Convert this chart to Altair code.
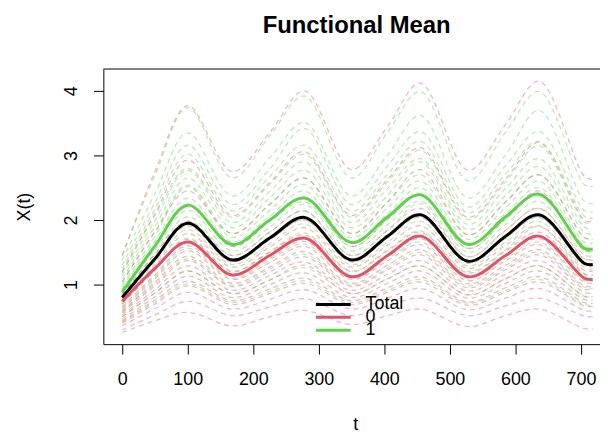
import altair as alt
import pandas as pd

# ---------------- data ----------------
T = [0, 50, 100, 168, 225, 278, 350, 405, 455, 528, 585, 636, 705, 718]

MEAN_TOTAL = [0.80, 1.40, 1.95, 1.38, 1.72, 2.04, 1.38, 1.75, 2.08, 1.36, 1.75, 2.08, 1.33, 1.31]
MEAN_0 = [0.74, 1.25, 1.66, 1.15, 1.45, 1.72, 1.12, 1.45, 1.75, 1.12, 1.45, 1.75, 1.10, 1.08]
MEAN_1 = [0.88, 1.60, 2.23, 1.62, 2.00, 2.34, 1.65, 2.05, 2.39, 1.62, 2.05, 2.40, 1.56, 1.55]

GROUP0_CURVES = [
    [1.45, 2.75, 3.77, 2.75, 3.35, 4.00, 2.78, 3.45, 4.12, 2.77, 3.48, 4.15, 2.68, 2.62],
    [1.20, 2.10, 2.93, 2.07, 2.58, 3.06, 2.07, 2.63, 3.12, 2.04, 2.63, 3.20, 2.00, 1.97],
    [1.04, 1.82, 2.45, 1.79, 2.24, 2.65, 1.79, 2.28, 2.78, 1.77, 2.28, 2.70, 1.73, 1.70],
    [0.92, 1.61, 2.24, 1.59, 1.98, 2.35, 1.59, 2.01, 2.39, 1.56, 2.01, 2.45, 1.53, 1.51],
    [0.84, 1.47, 1.98, 1.45, 1.81, 2.14, 1.45, 1.84, 2.18, 1.43, 1.84, 2.18, 1.40, 1.38],
    [0.78, 1.37, 1.91, 1.35, 1.69, 2.00, 1.35, 1.72, 2.04, 1.33, 1.72, 2.04, 1.30, 1.28],
    [0.74, 1.29, 1.79, 1.27, 1.58, 1.88, 1.27, 1.61, 1.91, 1.25, 1.61, 1.91, 1.22, 1.21],
    [0.70, 1.22, 1.70, 1.20, 1.50, 1.77, 1.20, 1.52, 1.81, 1.18, 1.52, 1.81, 1.16, 1.14],
    [0.66, 1.15, 1.60, 1.13, 1.41, 1.67, 1.13, 1.44, 1.71, 1.12, 1.44, 1.71, 1.09, 1.07],
    [0.62, 1.09, 1.52, 1.08, 1.34, 1.59, 1.08, 1.37, 1.62, 1.06, 1.37, 1.62, 1.04, 1.02],
    [0.59, 1.04, 1.44, 1.02, 1.27, 1.51, 1.02, 1.30, 1.54, 1.01, 1.30, 1.54, 0.98, 0.97],
    [0.56, 0.98, 1.37, 0.97, 1.20, 1.43, 0.97, 1.23, 1.46, 0.95, 1.23, 1.46, 0.93, 0.92],
    [0.53, 0.92, 1.29, 0.91, 1.14, 1.35, 0.91, 1.16, 1.37, 0.90, 1.16, 1.37, 0.88, 0.86],
    [0.50, 0.87, 1.21, 0.86, 1.07, 1.30, 0.86, 1.09, 1.29, 0.84, 1.09, 1.29, 0.82, 0.81],
    [0.46, 0.81, 1.13, 0.80, 1.00, 1.18, 0.80, 1.02, 1.21, 0.79, 1.02, 1.21, 0.77, 0.76],
    [0.43, 0.76, 1.05, 0.75, 0.93, 1.10, 0.75, 0.95, 1.12, 0.73, 0.95, 1.12, 0.72, 0.71],
    [0.40, 0.70, 0.98, 0.69, 0.86, 1.02, 0.69, 0.88, 1.04, 0.68, 0.88, 1.04, 0.67, 0.66],
    [0.36, 0.63, 0.88, 0.62, 0.77, 0.92, 0.62, 0.79, 0.94, 0.61, 0.79, 0.94, 0.60, 0.59],
    [0.30, 0.53, 0.74, 0.52, 0.65, 0.78, 0.52, 0.67, 0.79, 0.52, 0.67, 0.79, 0.51, 0.50],
    [0.26, 0.44, 0.57, 0.36, 0.50, 0.60, 0.38, 0.52, 0.62, 0.35, 0.52, 0.62, 0.32, 0.31],
]

GROUP1_CURVES = [
    [1.45, 2.69, 3.74, 2.65, 3.30, 3.92, 2.65, 3.36, 3.99, 2.61, 3.36, 3.99, 2.55, 2.52],
    [1.38, 2.41, 3.35, 2.37, 2.96, 3.51, 2.37, 3.01, 3.62, 2.34, 3.01, 3.70, 2.29, 2.25],
    [1.30, 2.27, 3.16, 2.24, 2.79, 3.42, 2.24, 2.84, 3.37, 2.20, 2.84, 3.37, 2.15, 2.12],
    [1.24, 2.17, 3.02, 2.14, 2.67, 3.16, 2.14, 2.71, 3.22, 2.11, 2.71, 3.22, 2.06, 2.03],
    [1.18, 2.07, 2.80, 2.04, 2.55, 3.02, 2.04, 2.59, 3.08, 2.01, 2.59, 3.15, 1.97, 1.94],
    [1.14, 1.99, 2.77, 1.96, 2.44, 2.90, 1.96, 2.49, 2.95, 1.93, 2.49, 2.95, 1.89, 1.86],
    [1.09, 1.90, 2.65, 1.88, 2.34, 2.77, 1.88, 2.38, 2.90, 1.85, 2.38, 2.83, 1.81, 1.78],
    [1.04, 1.82, 2.54, 1.79, 2.24, 2.65, 1.79, 2.28, 2.70, 1.77, 2.28, 2.70, 1.73, 1.70],
    [1.00, 1.75, 2.52, 1.73, 2.15, 2.55, 1.73, 2.19, 2.60, 1.70, 2.19, 2.60, 1.66, 1.64],
    [0.96, 1.68, 2.34, 1.66, 2.06, 2.45, 1.66, 2.10, 2.50, 1.63, 2.10, 2.50, 1.60, 1.57],
    [0.92, 1.61, 2.24, 1.59, 1.98, 2.28, 1.59, 2.01, 2.39, 1.56, 2.01, 2.39, 1.53, 1.51],
    [0.88, 1.54, 2.15, 1.52, 1.89, 2.24, 1.52, 1.93, 2.29, 1.50, 1.93, 2.29, 1.46, 1.44],
    [0.84, 1.47, 2.05, 1.45, 1.81, 2.14, 1.45, 1.84, 2.25, 1.43, 1.84, 2.18, 1.40, 1.38],
    [0.82, 1.42, 1.98, 1.36, 1.70, 2.00, 1.40, 1.78, 2.10, 1.35, 1.72, 2.05, 1.31, 1.30],
    [0.76, 1.33, 1.85, 1.31, 1.63, 1.94, 1.31, 1.66, 1.98, 1.29, 1.66, 1.98, 1.26, 1.24],
    [0.70, 1.23, 1.72, 1.21, 1.51, 1.80, 1.21, 1.54, 1.83, 1.20, 1.54, 1.90, 1.17, 1.15],
    [0.64, 1.12, 1.56, 1.10, 1.38, 1.63, 1.10, 1.40, 1.66, 1.09, 1.40, 1.66, 1.06, 1.05],
    [0.58, 1.01, 1.40, 0.99, 1.24, 1.47, 0.99, 1.26, 1.50, 0.98, 1.26, 1.50, 0.96, 0.94],
    [0.50, 0.87, 1.21, 0.86, 1.07, 1.26, 0.86, 1.09, 1.29, 0.84, 1.09, 1.29, 0.82, 0.81],
    [0.42, 0.73, 1.01, 0.72, 0.89, 1.06, 0.72, 0.91, 1.08, 0.71, 0.91, 1.08, 0.69, 0.68],
]

X_TICKS = [0, 100, 200, 300, 400, 500, 600, 700]
Y_TICKS = [1, 2, 3, 4]
LEGEND_LABELS = ["Total", "0", "1"]
TITLE = "Functional Mean"
X_TITLE = "t"
Y_TITLE = "X(t)"

# ---------------- styling ----------------
RED = "#DF536B"
GREEN = "#61D04F"
FONT = "Liberation Sans"
W, H = 500, 277
X_DOMAIN = [-28.8, 729.1]
Y_DOMAIN = [0.077, 4.338]
INTERP = "catmull-rom"

rows = []
for gname, curves in (("0", GROUP0_CURVES), ("1", GROUP1_CURVES)):
    for i, c in enumerate(curves):
        for t, v in zip(T, c):
            rows.append({"group": gname, "curve": f"{gname}_{i}", "t": t, "value": v})
df_ind = pd.DataFrame(rows)

mrows = []
for name, vals in zip(LEGEND_LABELS, (MEAN_TOTAL, MEAN_0, MEAN_1)):
    for t, v in zip(T, vals):
        mrows.append({"series": name, "t": t, "value": v})
df_mean = pd.DataFrame(mrows)

xs = alt.Scale(domain=X_DOMAIN, nice=False, zero=False)
ys = alt.Scale(domain=Y_DOMAIN, nice=False, zero=False)

x_enc = alt.X("t:Q", scale=xs,
              axis=alt.Axis(values=X_TICKS, title=None, grid=False, labelAngle=0, format="d",
                            labelPadding=17, tickSize=10, labelBaseline="top"))
y_enc = alt.Y("value:Q", scale=ys,
              axis=alt.Axis(values=Y_TICKS, title=None, grid=False, labelAngle=270, format="d",
                            labelAlign="center", labelBaseline="alphabetic",
                            labelPadding=17, tickSize=10))

ind = alt.Chart(df_ind).mark_line(
    strokeDash=[5, 4], strokeWidth=1.3, interpolate=INTERP, opacity=0.42
).encode(
    x=x_enc, y=y_enc, detail="curve:N",
    color=alt.Color("group:N", scale=alt.Scale(domain=["0", "1"], range=[RED, GREEN]), legend=None),
)

means = alt.Chart(df_mean).mark_line(strokeWidth=3, interpolate=INTERP).encode(
    x=alt.X("t:Q", scale=xs),
    y=alt.Y("value:Q", scale=ys),
    color=alt.Color("series:N", scale=alt.Scale(domain=LEGEND_LABELS, range=["black", RED, GREEN]),
                    legend=None),
)

top_rule = alt.Chart(pd.DataFrame({"a": [0]})).mark_rule(color="black", strokeWidth=1).encode(
    x=alt.value(0), x2=alt.value(W), y=alt.value(0))

title = alt.Chart(pd.DataFrame({"txt": [TITLE]})).mark_text(
    font=FONT, fontSize=24, fontWeight="bold", align="center", baseline="middle", color="black"
).encode(x=alt.value(255), y=alt.value(-43), text="txt:N")

xtitle = alt.Chart(pd.DataFrame({"txt": [X_TITLE]})).mark_text(
    font=FONT, fontSize=18, align="center", baseline="middle", color="black"
).encode(x=alt.value(254), y=alt.value(358), text="txt:N")

ytitle = alt.Chart(pd.DataFrame({"txt": [Y_TITLE]})).mark_text(
    font=FONT, fontSize=18, align="center", baseline="middle", angle=270, color="black"
).encode(x=alt.value(-79), y=alt.value(139), text="txt:N")

legend_layers = []
leg_colors = ["black", RED, GREEN]
for i, (lab, col) in enumerate(zip(LEGEND_LABELS, leg_colors)):
    yy = 237 + 13 * i
    legend_layers.append(
        alt.Chart(pd.DataFrame({"a": [0]})).mark_rule(color=col, strokeWidth=3).encode(
            x=alt.value(214), x2=alt.value(249), y=alt.value(yy)))
    legend_layers.append(
        alt.Chart(pd.DataFrame({"txt": [lab]})).mark_text(
            font=FONT, fontSize=18, align="left", baseline="middle", color="black"
        ).encode(x=alt.value(264), y=alt.value(yy), text="txt:N"))

chart = alt.layer(ind, means, top_rule, title, xtitle, ytitle, *legend_layers).resolve_scale(
    color="independent"
).properties(
    width=W, height=H,
    autosize=alt.AutoSizeParams(type="none"),
    padding={"left": 96, "top": 60, "right": 0, "bottom": 88},
).configure_view(stroke=None).configure_axis(
    domainColor="black", tickColor="black", labelColor="black", labelFont=FONT,
    labelFontSize=18, domainWidth=1, tickWidth=1,
)

chart.save("out.html", embed_options={"renderer": "svg", "actions": False})
